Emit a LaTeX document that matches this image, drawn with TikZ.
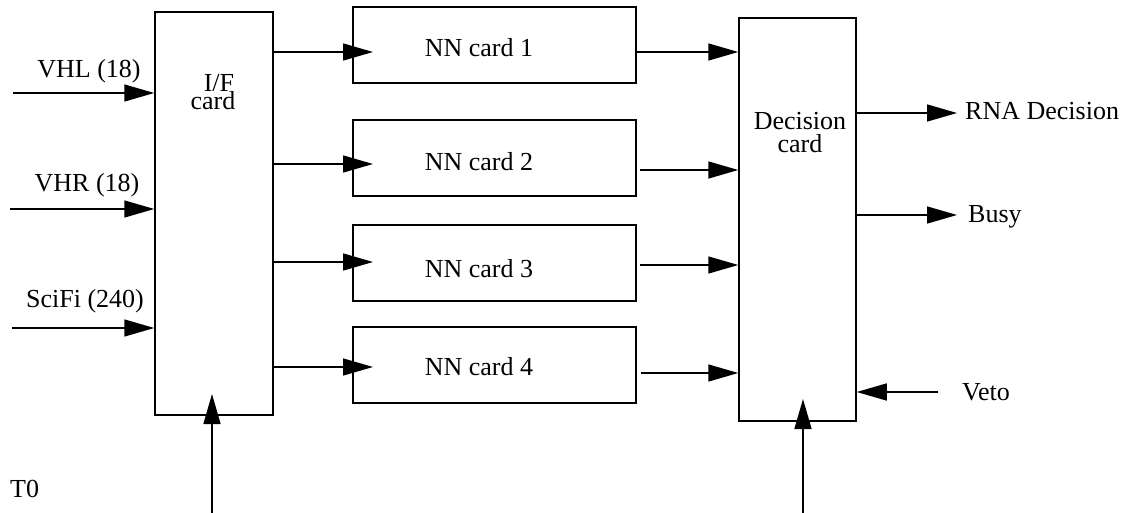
\documentclass[tikz,border=0pt]{standalone}
\usepackage{fontspec}
\setmainfont{Liberation Serif}
\usetikzlibrary{arrows.meta}
\begin{document}
\begin{tikzpicture}[x=1pt,y=-1pt,
  box/.style={draw,line width=1.5pt,inner sep=0pt},
  lbl/.style={font=\fontsize{26}{30}\selectfont,inner sep=0pt,anchor=base},
  lblw/.style={lbl,anchor=base west},
  arr/.style={line width=1.5pt,-{Triangle[length=30pt,width=17pt]}}]
\useasboundingbox (0,0) rectangle (1136,513);
% boxes
\node[box,minimum width=118pt,minimum height=403pt] (if) at (214,213.5) {};
\node[box,minimum width=283pt,minimum height=76pt] (nn1) at (494.5,45) {};
\node[box,minimum width=283pt,minimum height=76pt] (nn2) at (494.5,158) {};
\node[box,minimum width=283pt,minimum height=76pt] (nn3) at (494.5,263) {};
\node[box,minimum width=283pt,minimum height=76pt] (nn4) at (494.5,365) {};
\node[box,minimum width=117pt,minimum height=403pt] (dec) at (797.5,219.5) {};
% box labels
\node[lbl] (iflbl) at (219,92) {I/F};
\node[lbl,fill=white,inner ysep=1pt] (ifcard) at (213,110) {card};
\node[lbl] (nn1lbl) at (479,57) {NN card 1};
\node[lbl] (nn2lbl) at (479,171) {NN card 2};
\node[lbl] (nn3lbl) at (479,278) {NN card 3};
\node[lbl] (nn4lbl) at (479,375) {NN card 4};
\node[lbl] (declbl1) at (800,130) {Decision};
\node[lbl] (declbl2) at (800,153) {card};
% input labels
\node[lbl] (vhl) at (89,78) {VHL (18)};
\node[lbl] (vhr) at (87,192) {VHR (18)};
\node[lbl] (scifi) at (85,308) {SciFi (240)};
\node[lblw] (t0) at (10,497) {T0};
\node[lblw] (rna) at (965,120) {RNA Decision};
\node[lblw] (busy) at (968,223) {Busy};
\node[lblw] (veto) at (962,400) {Veto};
% free ends
\coordinate (vhlS) at (13,93);
\coordinate (vhrS) at (10,209);
\coordinate (sciS) at (12,328);
\coordinate (t0S) at (212,513);
\coordinate (t0E) at (212,394);
\coordinate (decS) at (803,513);
\coordinate (decE) at (803,399);
\coordinate (a1) at (373,52);
\coordinate (a2) at (373,164);
\coordinate (a3) at (373,262);
\coordinate (a4) at (373,367);
\coordinate (rnaE) at (957,113);
\coordinate (busyE) at (957,215);
\coordinate (vetoS) at (938,392);
% inputs
\draw[arr] (vhlS) -- (vhlS -| if.west);
\draw[arr] (vhrS) -- (vhrS -| if.west);
\draw[arr] (sciS) -- (sciS -| if.west);
\draw[arr] (t0S) -- (t0E);
% IF -> NN
\draw[arr] (a1 -| if.east) -- (a1);
\draw[arr] (a2 -| if.east) -- (a2);
\draw[arr] (a3 -| if.east) -- (a3);
\draw[arr] (a4 -| if.east) -- (a4);
% NN -> decision
\draw[arr] (nn1.east |- 0,52) -- (dec.west |- 0,52);
\draw[arr] ([xshift=3pt]nn2.east |- 0,170) -- (dec.west |- 0,170);
\draw[arr] ([xshift=3pt]nn3.east |- 0,265) -- (dec.west |- 0,265);
\draw[arr] ([xshift=4pt]nn4.east |- 0,373) -- (dec.west |- 0,373);
% outputs
\draw[arr] (dec.east |- rnaE) -- (rnaE);
\draw[arr] (dec.east |- busyE) -- (busyE);
\draw[arr] (vetoS) -- (vetoS -| dec.east);
\draw[arr] (decS) -- (decE);
\end{tikzpicture}
\end{document}
